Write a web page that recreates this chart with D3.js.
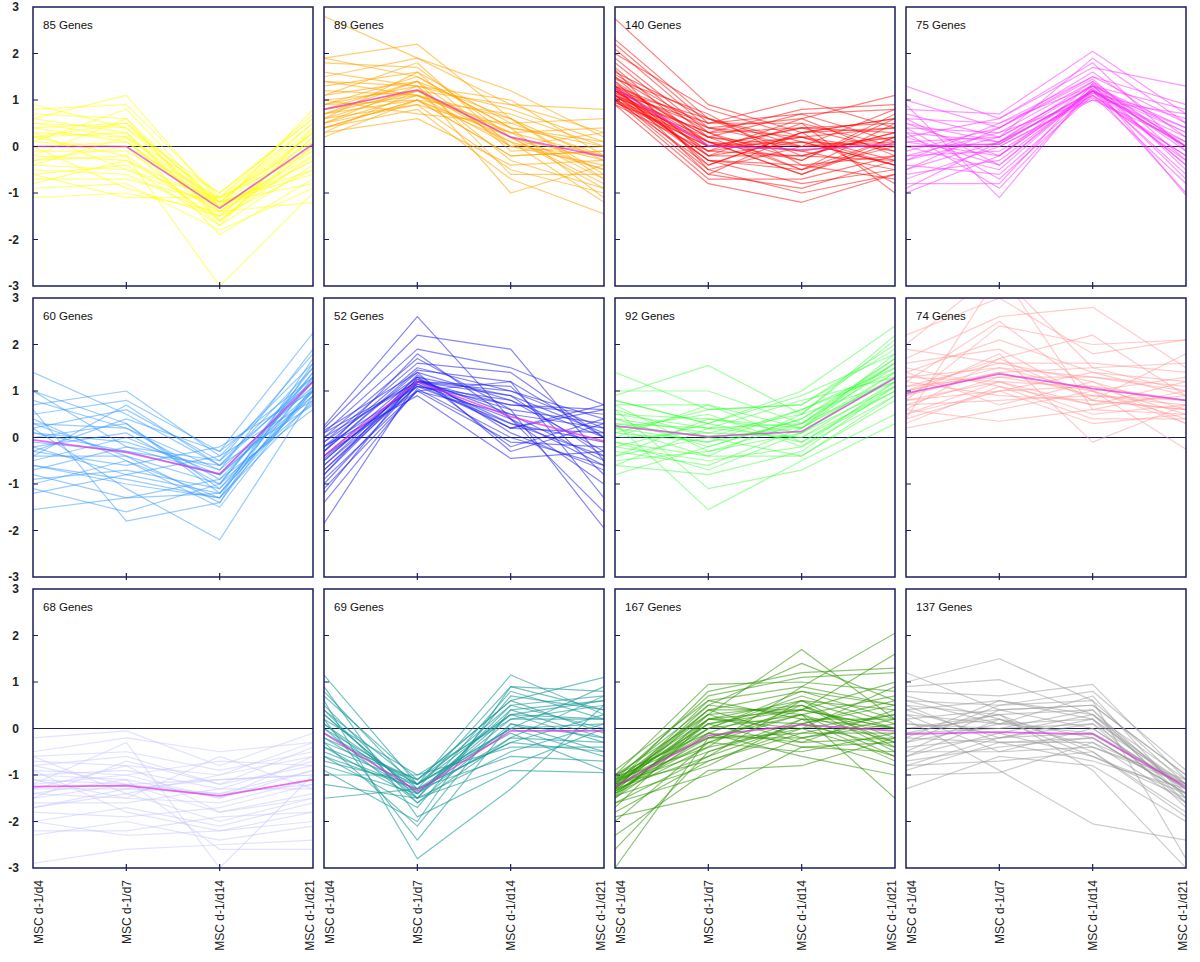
<!DOCTYPE html>
<html><head><meta charset="utf-8">
<script src="https://cdn.jsdelivr.net/npm/d3@7"></script>
<style>body{margin:0;background:#fff;font-family:Arial,"Liberation Sans",sans-serif}</style>
</head><body><svg id="c" width="1200" height="962"></svg>
<script>
const timepoints = ["MSC d-1/d4","MSC d-1/d7","MSC d-1/d14","MSC d-1/d21"];
const yTicks = [3,2,1,0,-1,-2,-3];
const geneCounts = [85,89,140,75,60,52,92,74,68,69,167,137];
const clusterColors = ["#ffff00","#ffa500","#ff0000","#ff33ff","#3399ff","#2222ee","#33ff33","#ff9a9a","#c8c8ff","#1a9a9a","#2f9600","#9a9a9a"];
const clusterOpacity = [0.5,0.55,0.5,0.5,0.5,0.55,0.45,0.5,0.5,0.6,0.55,0.5];
const meanProfiles = [
 [0,0,-1.33,0.05],[0.8,1.22,0.2,-0.22],[1.25,0.02,-0.07,0.05],[0.0,0.05,1.2,0.0],
 [-0.05,-0.32,-0.78,1.2],[-0.4,1.2,0.45,-0.08],[0.25,0.02,0.13,1.28],[0.95,1.37,1.05,0.8],
 [-1.25,-1.23,-1.45,-1.1],[-0.1,-1.35,-0.05,-0.05],[-1.25,-0.15,0.08,-0.05],[-0.12,-0.08,-0.12,-1.25]
];
const cluster1 = [[0.8,0.9,-1.1,0.7],[0.6,1.1,-1.2,0.5],[0.7,0.6,-1.3,0.8],[0.5,0.4,-1.0,0.6],[0.4,0.5,-1.4,0.3],[0.3,0.2,-1.2,0.4],[0.2,0.3,-1.5,0.2],[0.1,0.0,-1.1,0.1],[0.0,0.1,-1.3,0.0],[-0.1,-0.1,-1.2,0.3],[-0.2,-0.3,-1.4,-0.1],[-0.3,-0.2,-1.6,-0.2],[-0.4,-0.5,-1.3,-0.3],[-0.5,-0.6,-1.5,-0.5],[-0.6,-0.4,-1.7,-0.4],[-0.7,-0.7,-1.2,-0.6],[-0.9,-0.8,-1.8,-0.9],[-1.1,-1.0,-1.4,-1.2],[0.2,-0.2,-3.0,-1.0],[0.5,0.2,-1.9,-0.7],[-0.2,0.6,-1.6,0.1],[0.3,-0.5,-1.1,0.5],[0.1,0.8,-1.3,-0.2],[0.0,-0.9,-1.5,0.2],[0.4,0.1,-1.4,-0.3],[-0.4,0.2,-1.0,0.6],[0.6,0.3,-1.6,0.0],[-0.8,-0.3,-1.2,-0.8],[0.9,0.4,-1.3,0.3],[-0.3,0.0,-1.7,0.4],[0.2,0.5,-1.2,-0.5],[-0.6,-1.1,-1.1,-0.1]];
const cluster2 = [[2.8,1.9,0.9,0.3],[1.9,2.2,0.6,-0.3],[1.9,1.5,0.4,0.0],[1.8,1.7,0.2,-0.5],[1.5,1.9,1.2,0.2],[1.4,1.3,0.8,0.1],[1.3,1.6,0.5,-0.2],[1.2,1.1,0.3,-0.7],[1.1,1.4,0.0,-0.4],[1.0,1.2,0.9,0.8],[0.9,1.0,0.2,-0.3],[0.9,1.3,-0.3,-0.9],[0.8,1.1,0.4,0.1],[0.8,1.2,0.1,-0.5],[0.7,1.0,-0.2,-0.1],[0.7,1.4,0.6,-0.6],[0.6,1.2,0.3,-0.2],[0.6,0.9,-0.5,-1.0],[0.5,1.1,0.0,0.3],[0.5,1.3,-1.0,-0.4],[0.4,1.0,0.7,0.0],[0.4,0.8,-0.7,-1.45],[0.3,1.2,0.2,-0.8],[0.3,0.6,-0.4,-0.3],[0.2,1.0,0.1,-1.2],[1.0,0.7,0.5,0.6],[1.1,1.8,0.0,-0.2],[0.9,1.5,0.4,-1.1],[0.6,1.6,-0.1,0.0],[1.4,1.1,0.6,-0.7],[0.5,0.9,0.3,0.4],[0.8,1.4,-0.6,-0.6],[1.6,1.3,1.0,-0.2],[0.7,1.2,0.2,-0.9],[0.4,1.0,-0.2,-0.1]];
const cluster3 = [[2.75,0.9,0.3,0.6],[2.3,0.6,0.0,0.2],[2.2,0.5,1.0,0.4],[2.1,0.4,0.6,1.1],[2.0,0.8,0.2,-0.3],[1.9,0.3,-0.5,0.0],[1.8,0.2,0.7,0.8],[1.7,0.0,0.4,0.5],[1.6,0.6,-0.2,0.3],[1.5,-0.2,0.1,-0.4],[1.5,0.3,0.8,0.9],[1.4,0.1,-0.6,0.2],[1.4,-0.4,0.3,0.6],[1.3,0.2,-0.1,-0.5],[1.3,0.5,0.5,0.0],[1.3,-0.6,-0.9,-0.3],[1.2,0.0,0.2,0.4],[1.2,-0.3,-0.4,-0.7],[1.2,0.4,0.0,0.1],[1.2,-0.1,0.6,-0.2],[1.1,0.1,-0.3,0.7],[1.1,-0.5,-1.0,-0.6],[1.1,0.3,0.4,-0.1],[1.1,-0.2,-0.2,0.3],[1.0,0.0,0.1,-0.4],[1.0,-0.7,-0.7,-0.2],[1.0,0.2,-0.5,0.5],[1.0,-0.4,0.3,-0.8],[0.95,0.1,-0.1,0.2],[0.9,-0.1,0.2,-0.1],[0.9,-0.8,-1.2,-0.6],[1.15,0.5,0.7,0.1],[1.25,-0.3,-0.8,-0.5],[1.35,0.2,0.0,0.8],[1.05,-0.6,0.3,0.4],[1.45,0.7,-0.4,-0.2],[1.15,-0.2,0.5,-1.0],[1.25,0.1,-0.6,0.1],[1.55,0.4,0.2,-0.4],[1.05,0.3,-0.3,0.6],[1.65,-0.5,0.0,0.0],[0.95,0.0,0.4,0.3],[1.3,-0.1,-0.2,-0.3],[1.2,0.6,0.1,0.0],[1.1,-0.3,-0.5,0.2]];
const cluster4 = [[1.3,0.6,1.7,1.3],[1.0,0.4,1.5,0.9],[0.8,0.7,2.05,0.7],[0.7,0.2,1.9,0.5],[0.6,0.5,1.3,0.8],[0.5,-0.2,1.2,0.3],[0.4,0.3,1.4,0.0],[0.3,0.1,1.1,-0.2],[0.2,-0.4,1.2,0.4],[0.1,0.2,1.3,-0.4],[0.0,0.0,1.0,0.1],[0.0,-0.5,1.25,-0.7],[-0.1,0.4,1.6,0.2],[-0.2,-0.1,1.1,-0.3],[-0.3,0.2,1.3,-0.1],[-0.4,-0.6,1.15,0.6],[-0.5,0.1,1.4,-0.5],[-0.6,-0.3,1.2,-1.0],[-0.7,0.0,1.05,-0.2],[-0.8,-0.8,1.35,0.0],[-1.0,-0.2,1.2,-0.6],[0.9,-1.1,1.3,0.3],[0.4,-0.7,1.1,-0.8],[-0.3,0.5,1.5,0.5],[0.2,0.6,1.8,-0.1],[0.6,-0.4,1.25,-0.4],[-0.2,0.3,1.0,0.7],[0.1,-0.2,1.35,-1.05],[0.5,0.1,1.15,0.2],[-0.5,0.4,1.45,-0.3],[0.3,-0.9,1.2,0.1],[-0.9,0.1,1.3,0.4]];
const cluster5 = [[1.4,0.5,-0.6,1.3],[1.0,-0.2,-0.8,1.0],[1.0,0.3,-1.1,0.9],[0.7,1.0,-0.4,1.6],[0.5,0.8,-0.3,2.25],[0.4,-0.5,-1.3,0.8],[0.3,0.2,-0.9,1.2],[0.2,0.6,-0.5,1.8],[0.1,-0.1,-0.7,1.1],[0.0,0.3,-1.2,1.4],[-0.1,-0.3,-0.6,0.7],[-0.2,0.1,-1.0,1.5],[-0.3,-0.6,-0.2,1.0],[-0.4,-0.4,-1.4,1.3],[-0.5,0.0,-0.8,0.9],[-0.6,-0.9,-1.3,1.7],[-0.7,-0.2,-0.5,1.2],[-0.8,-1.3,-0.9,0.6],[-1.0,-0.5,-1.5,1.1],[-1.1,-1.6,-1.0,1.4],[-1.2,-0.8,-0.4,0.8],[-1.55,-1.3,-1.2,1.0],[0.6,-1.8,-1.4,1.6],[0.2,-1.1,-2.2,0.9],[-0.3,0.4,-0.3,1.3],[0.8,0.2,-0.7,1.9],[-0.9,-0.7,-1.1,1.2],[0.3,-0.4,-1.0,0.75],[-0.4,0.7,-0.6,1.5],[-0.6,-1.0,-1.3,1.0],[0.1,-0.3,-0.8,1.25],[-0.2,-0.8,-1.2,1.05]];
const cluster6 = [[0.25,2.6,0.4,-0.6],[0.2,2.2,1.9,-0.5],[0.1,1.9,1.5,0.7],[0.0,1.7,0.6,-1.95],[-0.1,1.6,1.4,0.0],[-0.2,1.5,1.0,0.4],[-0.3,1.4,0.8,-0.3],[-0.4,1.3,0.2,0.6],[-0.5,1.2,1.1,-0.8],[-0.6,1.25,0.5,0.2],[-0.7,1.1,0.3,-0.4],[-0.8,1.2,0.7,0.5],[-0.9,1.0,-0.1,-0.2],[-1.0,1.15,0.4,-1.0],[-1.2,1.3,0.9,0.1],[-1.4,1.05,0.0,-0.6],[-1.85,1.2,0.6,0.3],[-0.2,0.9,-0.45,-0.3],[0.1,1.2,0.2,0.7],[-0.3,1.45,1.2,-1.3],[-0.6,1.1,0.8,0.0],[-0.1,1.3,-0.2,0.4],[-0.4,1.0,0.5,-0.5],[0.0,1.2,1.0,0.2],[-0.8,1.35,0.1,-0.7],[-0.2,1.1,0.7,0.6],[-0.5,1.25,0.3,-0.1],[-1.1,1.0,1.2,0.0],[-0.3,1.8,0.4,-1.6],[0.15,1.4,-0.3,0.3],[-0.7,1.2,0.9,-0.4],[-0.45,1.15,0.2,0.1]];
const cluster7 = [[1.4,0.6,0.7,2.0],[1.0,1.0,0.3,1.6],[0.9,1.55,0.5,1.2],[0.8,0.3,1.0,2.4],[0.7,0.7,0.2,1.8],[0.6,0.0,0.6,1.4],[0.5,0.4,0.1,1.1],[0.4,-0.2,0.4,1.7],[0.3,0.2,0.8,1.3],[0.2,0.5,-0.2,0.9],[0.1,-0.1,0.3,1.5],[0.0,0.1,0.0,1.2],[-0.1,-0.4,0.5,2.1],[-0.2,0.3,-0.1,1.0],[-0.3,-0.6,0.2,1.4],[-0.4,0.0,-0.4,0.8],[-0.5,-0.3,0.1,1.3],[-0.6,-0.8,-0.3,1.1],[-0.8,-0.2,0.4,1.6],[0.3,-1.55,-0.5,0.5],[0.6,-1.1,-0.7,0.3],[0.1,0.6,0.7,1.9],[-0.2,-0.5,-0.2,1.2],[0.5,0.2,0.0,1.0],[0.2,-0.1,0.6,1.5],[-0.4,0.4,0.2,1.3],[0.7,-0.3,0.3,1.7],[0.0,0.7,-0.1,1.1],[0.4,0.1,0.5,2.2],[-0.1,-0.7,0.1,1.4],[0.8,0.3,0.9,1.8],[0.2,-0.4,-0.4,0.9],[-0.6,0.2,0.3,1.2],[0.3,0.0,0.2,1.6]];
const cluster8 = [[0.4,3.5,1.5,1.0],[2.2,3.0,1.8,2.1],[1.7,2.6,2.8,1.5],[2.0,3.6,0.6,0.5],[0.8,2.4,2.0,2.1],[1.4,2.1,1.4,1.2],[1.6,1.9,0.8,1.8],[1.2,2.5,1.0,0.3],[0.6,1.7,2.2,0.9],[1.0,1.5,1.3,1.0],[1.3,1.2,1.1,0.8],[0.9,1.4,0.9,0.7],[1.1,1.6,1.2,0.6],[0.7,1.3,1.0,1.3],[1.5,1.1,0.7,0.9],[0.5,1.0,1.1,0.5],[0.8,1.2,0.5,0.7],[1.2,0.9,0.8,0.6],[0.3,1.1,0.4,0.4],[1.0,1.4,1.5,1.6],[0.6,0.35,0.6,1.0],[0.9,1.8,-0.1,0.7],[1.3,1.5,1.0,-0.25],[0.4,1.0,0.3,0.5],[1.1,1.3,1.3,1.1],[0.7,0.8,0.9,0.8],[0.2,0.6,1.0,0.4],[1.9,1.6,1.6,1.4],[0.5,1.2,0.7,1.2],[1.4,0.7,1.2,0.3],[0.8,1.0,1.4,0.9],[1.0,1.7,0.8,0.6]];
const cluster9 = [[-0.2,-0.05,-0.8,-0.1],[-0.5,-0.2,-0.5,-0.3],[-0.6,-0.5,-0.9,-0.5],[-0.7,-0.8,-1.0,-0.6],[-0.8,-0.6,-1.2,-0.4],[-0.9,-1.0,-0.7,-0.8],[-1.0,-0.9,-1.3,-0.7],[-1.1,-1.2,-1.1,-1.0],[-1.2,-1.0,-1.5,-0.9],[-1.3,-1.3,-1.4,-1.2],[-1.4,-1.5,-1.6,-1.1],[-1.5,-1.2,-1.8,-1.4],[-1.6,-1.6,-1.3,-1.3],[-1.7,-1.4,-2.0,-1.5],[-1.8,-1.9,-1.7,-1.2],[-2.0,-1.7,-2.1,-1.6],[-2.2,-2.2,-1.9,-1.8],[-2.3,-2.0,-2.4,-2.1],[-2.9,-2.6,-2.5,-2.4],[-1.2,-0.3,-3.0,-1.0],[-1.0,-1.1,-2.6,-2.6],[-0.6,-1.4,-1.0,-0.3],[-1.5,-0.7,-1.2,-0.8],[-1.1,-1.5,-0.6,-1.3],[-0.9,-1.8,-2.2,-2.0],[-1.4,-1.1,-1.5,-0.6],[-1.7,-1.3,-1.1,-1.0],[-1.3,-0.8,-1.8,-1.5],[-0.8,-1.2,-1.4,-0.9],[-2.0,-2.3,-2.2,-1.8]];
const cluster10 = [[1.15,-1.2,0.3,0.6],[0.8,-1.3,0.9,0.4],[0.7,-1.1,0.6,1.1],[0.5,-1.5,0.8,0.2],[0.4,-1.2,0.0,0.9],[0.3,-1.4,0.4,-0.2],[0.2,-1.0,0.2,0.5],[0.1,-1.3,-0.3,0.3],[0.0,-1.6,0.1,-0.5],[-0.1,-1.2,0.5,0.0],[-0.2,-1.4,-0.2,0.7],[-0.3,-1.1,0.3,-0.3],[-0.4,-1.5,-0.5,0.1],[-0.5,-1.3,0.0,-0.6],[-0.6,-1.7,0.7,0.4],[-0.7,-1.2,-0.1,-0.9],[-0.8,-1.4,0.2,0.2],[-1.0,-1.0,-0.4,-0.4],[-1.2,-1.5,-0.8,0.0],[-1.5,-1.3,-0.6,-0.7],[0.6,-2.8,-1.3,0.5],[0.2,-2.4,0.1,-0.2],[-0.3,-2.1,0.4,0.6],[0.9,-1.9,-0.9,-0.95],[-0.9,-2.0,0.9,0.8],[0.0,-1.2,1.15,0.3],[0.4,-1.6,-0.2,-0.3],[-0.2,-1.1,0.6,-0.1],[0.3,-1.4,0.3,0.2],[-0.6,-1.3,-0.3,-0.5],[0.1,-1.5,0.5,0.7],[-0.4,-1.2,0.0,0.1]];
const cluster11 = [[-0.9,0.6,0.9,2.05],[-1.0,0.95,1.0,0.8],[-1.0,0.3,1.7,0.2],[-1.05,0.5,1.4,0.6],[-1.1,0.2,0.4,1.6],[-1.1,0.7,1.1,1.2],[-1.1,0.0,0.3,-0.3],[-1.15,0.4,0.8,0.5],[-1.15,-0.2,-0.1,0.3],[-1.2,0.1,0.5,-0.5],[-1.2,-0.5,0.2,0.0],[-1.2,0.3,-0.3,-0.2],[-1.25,-0.1,0.6,0.4],[-1.25,0.2,0.0,-0.6],[-1.25,-0.3,-0.5,-0.1],[-1.3,0.5,0.3,0.7],[-1.3,-0.6,0.1,-0.4],[-1.3,0.0,0.7,0.1],[-1.35,-0.2,-0.2,-0.8],[-1.35,0.4,0.4,0.0],[-1.4,-0.4,0.9,0.5],[-1.4,0.1,-0.4,-0.3],[-1.45,-0.8,0.2,0.2],[-1.5,0.3,0.5,-0.2],[-1.5,-0.1,-0.6,-1.0],[-1.6,-1.0,-0.2,0.1],[-1.7,0.2,0.6,-0.4],[-1.8,-0.7,0.0,0.3],[-1.9,-1.45,-0.4,-0.5],[-2.0,-0.3,0.3,-1.5],[-2.3,-0.9,-0.8,-0.2],[-2.6,-0.5,0.1,0.6],[-3.0,-0.2,0.4,0.0],[-1.2,0.8,1.2,1.3],[-1.1,-0.4,0.0,0.9],[-1.3,0.6,0.2,-0.7],[-1.0,-0.1,-0.3,0.4],[-1.4,0.0,0.8,0.2],[-1.2,-0.7,-0.1,-0.1],[-1.15,0.1,0.4,1.0],[-1.35,-0.3,0.5,-0.3],[-1.25,0.4,-0.2,0.2],[-1.05,-0.2,0.3,-0.6],[-1.45,0.2,0.1,0.5],[-1.6,-0.6,0.6,0.0]];
const cluster12 = [[1.2,0.4,0.5,-1.0],[1.0,1.5,0.6,-1.2],[0.9,1.05,0.3,-1.3],[0.8,0.7,0.95,-1.1],[0.6,0.5,0.8,-0.9],[0.5,0.3,0.4,-1.4],[0.4,0.6,0.2,-1.2],[0.3,0.1,0.7,-1.5],[0.2,0.4,0.0,-1.3],[0.1,-0.1,0.3,-1.1],[0.0,0.2,-0.2,-1.4],[-0.1,0.0,0.1,-1.6],[-0.2,-0.3,-0.3,-1.2],[-0.3,0.1,-0.1,-1.3],[-0.4,-0.2,0.2,-1.7],[-0.5,-0.5,-0.4,-1.2],[-0.6,-0.1,-0.6,-1.5],[-0.7,-0.4,-0.2,-1.4],[-0.8,-0.7,-0.5,-1.8],[-0.9,-0.3,-0.7,-1.3],[-1.0,-0.95,-0.3,-1.6],[-1.3,-0.6,-0.8,-2.0],[0.2,-0.9,-2.05,-2.4],[0.0,0.3,-0.9,-3.0],[-0.3,0.5,0.6,-2.8],[0.7,0.2,-0.6,-1.4],[-0.5,0.4,0.5,-1.0],[0.4,-0.2,-0.1,-1.2],[-0.2,0.6,0.3,-1.5],[0.3,-0.5,0.0,-1.3],[-0.6,0.2,-0.4,-1.1],[0.1,0.0,0.4,-1.6],[-0.8,-0.2,0.1,-1.2],[0.5,-0.3,-0.2,-1.4],[-0.1,0.3,-0.5,-1.9],[0.6,0.1,0.2,-1.3]];
const clusters = [cluster1,cluster2,cluster3,cluster4,cluster5,cluster6,cluster7,cluster8,cluster9,cluster10,cluster11,cluster12];

const svg = d3.select("#c");
const W = 280, H = 279, X0 = 33, Y0 = 7, DX = 291, DY = 291;
const frame = "#1c1c5a";

clusters.forEach((genes, i) => {
  const col = i % 4, row = Math.floor(i / 4);
  const left = X0 + col * DX, top = Y0 + row * DY;
  const x = d3.scalePoint().domain(timepoints).range([0, W]);
  const y = d3.scaleLinear().domain([-3, 3]).range([H, 0]);
  const g = svg.append("g").attr("transform", `translate(${left},${top})`);
  svg.append("defs").append("clipPath").attr("id", "clip" + i)
    .append("rect").attr("width", W).attr("height", H);
  const line = d3.line().x((d, j) => x(timepoints[j])).y(d => y(d));
  const inner = g.append("g").attr("clip-path", `url(#clip${i})`);
  inner.append("line").attr("x1", 0).attr("x2", W).attr("y1", y(0)).attr("y2", y(0))
    .attr("stroke", frame).attr("stroke-width", 1.2);
  inner.selectAll("path.gene").data(genes).join("path").attr("class", "gene")
    .attr("d", line).attr("fill", "none").attr("stroke", clusterColors[i])
    .attr("stroke-opacity", clusterOpacity[i]).attr("stroke-width", 1.2)
    .attr("stroke-linejoin", "round");
  inner.append("path").attr("d", line(meanProfiles[i])).attr("fill", "none")
    .attr("stroke", "#e030e0").attr("stroke-opacity", 0.7).attr("stroke-width", 1.7);
  g.selectAll("line.yt").data(yTicks.filter(t => Math.abs(t) < 3)).join("line").attr("class", "yt")
    .attr("x1", 0).attr("x2", 5).attr("y1", d => y(d)).attr("y2", d => y(d))
    .attr("stroke", frame).attr("stroke-width", 1);
  g.selectAll("line.xt").data(timepoints.slice(1, 3)).join("line").attr("class", "xt")
    .attr("x1", d => x(d)).attr("x2", d => x(d)).attr("y1", H - 4).attr("y2", H + 3)
    .attr("stroke", frame).attr("stroke-width", 1.2);
  g.append("rect").attr("width", W).attr("height", H).attr("fill", "none")
    .attr("stroke", frame).attr("stroke-width", 1.5);
  g.append("text").attr("x", 10).attr("y", 22).attr("font-size", 11.5).attr("fill", "#111")
    .text(geneCounts[i] + " Genes");
  if (col === 0) {
    g.selectAll("text.yl").data(yTicks).join("text").attr("class", "yl")
      .attr("x", -14).attr("y", d => y(d)).attr("dy", "0.35em").attr("text-anchor", "end")
      .attr("font-size", 12).attr("font-weight", "bold").attr("fill", "#222").text(d => d);
  }
  if (row === 2) {
    g.selectAll("text.xl").data(timepoints).join("text").attr("class", "xl")
      .attr("transform", d => `translate(${Math.min(Math.max(x(d), 6), W - 3)},${H + 12}) rotate(-90)`)
      .attr("dy", "0.35em").attr("text-anchor", "end").attr("font-size", 12).attr("fill", "#222")
      .text(d => d);
  }
});
</script></body></html>
